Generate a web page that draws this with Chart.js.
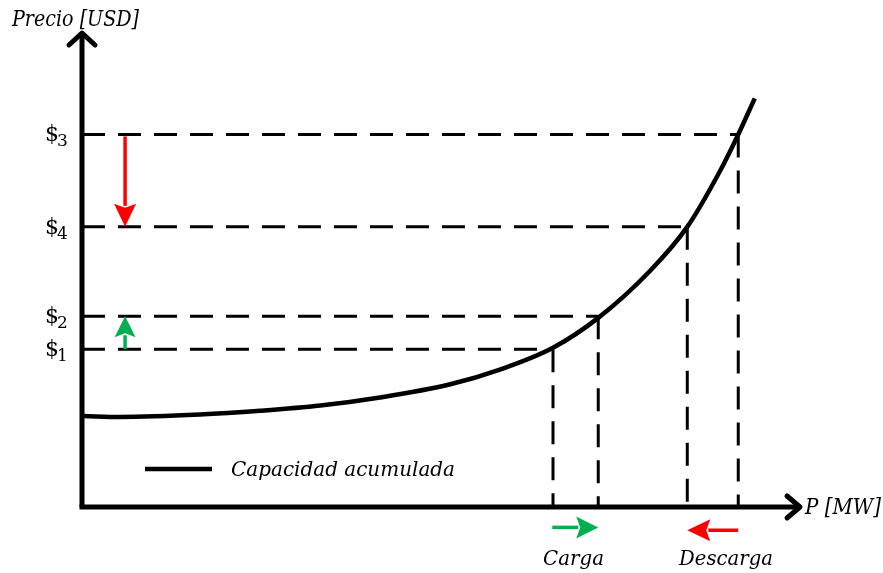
<!DOCTYPE html>
<html>
<head>
<meta charset="utf-8">
<script src="https://cdn.jsdelivr.net/npm/chart.js@4"></script>
<style>
  html, body { margin: 0; padding: 0; background: #fff; }
  #wrap { width: 883px; height: 573px; }
</style>
</head>
<body>
<div id="wrap"><canvas id="myChart"></canvas></div>
<script>
// curve: cumulative capacity (P and price as % of axis length)
var curveX = [0.3, 5.3, 16.4, 24.8, 33.2, 41.5, 51.3, 58.2, 65.6, 71.9, 79.1, 84.3, 88.9, 91.4, 93.7];
var curveY = [19.2, 19.0, 19.5, 20.3, 21.4, 23.1, 25.9, 29.0, 33.6, 39.9, 49.8, 59.1, 71.0, 78.6, 86.2];

// price levels and the power where they meet the curve
var levelLabels = ['1', '2', '4', '3'];
var priceLevels = [33.3, 40.25, 59.1, 78.6];
var powerPoints = [65.6, 71.9, 84.3, 91.4];

var legendLabel = 'Capacidad acumulada';
var yTitle = 'Precio [USD]';
var xTitle = 'P [MW]';
var moveLabels = ['Carga', 'Descarga'];

var FONT = '"DejaVu Serif", serif';
var dash = [23, 13];

var datasets = [{
  label: legendLabel,
  data: curveX.map(function(x, i) { return {x: x, y: curveY[i]}; }),
  borderColor: '#000',
  borderWidth: 4.5,
  pointRadius: 0,
  cubicInterpolationMode: 'monotone',
  clip: false,
  order: 0
}];

priceLevels.forEach(function(lv, i) {
  datasets.push({
    data: [{x: 0, y: lv}, {x: powerPoints[i], y: lv}],
    borderColor: '#000', borderWidth: 3, borderDash: dash,
    pointRadius: 0, order: 2
  });
  datasets.push({
    data: [{x: powerPoints[i], y: lv}, {x: powerPoints[i], y: 0}],
    borderColor: '#000', borderWidth: 3, borderDash: dash,
    pointRadius: 0, order: 2
  });
});

// axis lines
datasets.push({ data: [{x: 0, y: 0}, {x: 0, y: 100}], borderColor: '#000', borderWidth: 5, pointRadius: 0, clip: false, order: 1 });
datasets.push({ data: [{x: -0.35, y: 0}, {x: 100, y: 0}], borderColor: '#000', borderWidth: 5, pointRadius: 0, clip: false, order: 1 });

function arrow(ctx, x1, y1, x2, y2, color, w, hl, hw) {
  var a = Math.atan2(y2 - y1, x2 - x1);
  var bx = x2 - hl * Math.cos(a), by = y2 - hl * Math.sin(a);
  ctx.strokeStyle = color; ctx.fillStyle = color; ctx.lineWidth = w;
  ctx.beginPath(); ctx.moveTo(x1, y1); ctx.lineTo(bx + 2 * Math.cos(a), by + 2 * Math.sin(a)); ctx.stroke();
  ctx.beginPath();
  ctx.moveTo(x2, y2);
  ctx.lineTo(bx + hw / 2 * Math.sin(a), by - hw / 2 * Math.cos(a));
  ctx.lineTo(bx + 4 * Math.cos(a), by + 4 * Math.sin(a));
  ctx.lineTo(bx - hw / 2 * Math.sin(a), by + hw / 2 * Math.cos(a));
  ctx.closePath(); ctx.fill();
}

var decor = {
  id: 'decor',
  afterDatasetsDraw: function(chart) {
    var ctx = chart.ctx, xs = chart.scales.x, ys = chart.scales.y;
    var X = function(v) { return xs.getPixelForValue(v); };
    var Y = function(v) { return ys.getPixelForValue(v); };
    ctx.save();
    // axis arrow heads
    ctx.strokeStyle = '#000'; ctx.lineWidth = 5; ctx.lineCap = 'round'; ctx.lineJoin = 'round';
    ctx.beginPath();
    ctx.moveTo(X(0) - 13, Y(100) + 12); ctx.lineTo(X(0), Y(100)); ctx.lineTo(X(0) + 13, Y(100) + 12);
    ctx.moveTo(X(100) - 13, Y(0) - 11); ctx.lineTo(X(100), Y(0)); ctx.lineTo(X(100) - 13, Y(0) + 11);
    ctx.stroke();
    ctx.lineCap = 'butt';

    // price change arrows
    arrow(ctx, X(6), Y(priceLevels[3]) + 2, X(6), Y(priceLevels[2]), '#ff0000', 3.5, 23, 22);
    arrow(ctx, X(6), Y(priceLevels[0]), X(6), Y(priceLevels[1]), '#00b050', 3.5, 21, 21);
    // power change arrows
    arrow(ctx, X(65.5), Y(-4.3), X(powerPoints[1]), Y(-4.3), '#00b050', 3.5, 22, 22);
    arrow(ctx, X(powerPoints[3]), Y(-4.9), X(powerPoints[2]), Y(-4.9), '#ff0000', 3.5, 23, 22);

    // tick labels $n
    ctx.fillStyle = '#000'; ctx.textBaseline = 'alphabetic'; ctx.textAlign = 'left';
    priceLevels.forEach(function(lv, i) {
      ctx.font = '22px ' + FONT;
      ctx.fillText('$', 45, Y(lv) + 7);
      ctx.font = '17px ' + FONT;
      ctx.fillText(levelLabels[i], 57, Y(lv) + 12);
    });

    // titles (squeezed to the reference widths)
    ctx.font = 'italic 23px ' + FONT;
    ctx.fillText(yTitle, 12, 26, 127);
    ctx.font = 'italic 22px ' + FONT;
    ctx.fillText(xTitle, 805, Y(0) + 7, 76);
    ctx.font = 'italic 21px ' + FONT;
    ctx.fillText(moveLabels[0], 543, 565, 61);
    ctx.fillText(moveLabels[1], 679, 565, 94);

    // legend
    ctx.strokeStyle = '#000'; ctx.lineWidth = 4.5;
    ctx.beginPath(); ctx.moveTo(145, 469); ctx.lineTo(212, 469); ctx.stroke();
    ctx.font = 'italic 20px ' + FONT;
    ctx.fillText(legendLabel, 231, 476, 224);
    ctx.restore();
  }
};

var ctx = document.getElementById('myChart').getContext('2d');
var myChart = new Chart(ctx, {
  type: 'line',
  data: { datasets: datasets },
  options: {
    responsive: true,
    maintainAspectRatio: false,
    animation: false,
    layout: { padding: { left: 82, right: 83, top: 33, bottom: 66 } },
    plugins: { legend: { display: false }, tooltip: { enabled: false } },
    scales: {
      x: { type: 'linear', min: 0, max: 100, display: false },
      y: { type: 'linear', min: 0, max: 100, display: false }
    }
  },
  plugins: [decor]
});
</script>
</body>
</html>
